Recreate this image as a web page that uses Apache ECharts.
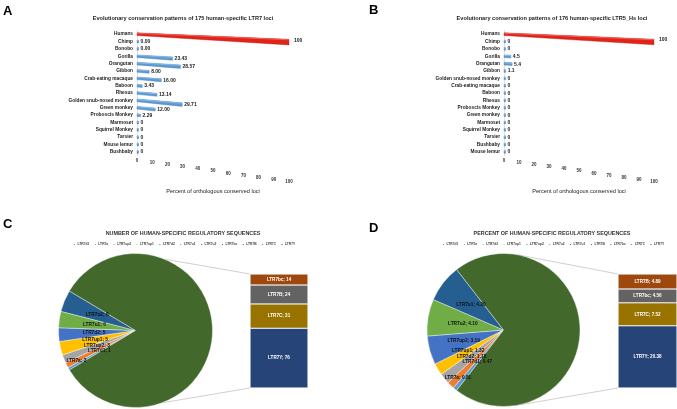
<!DOCTYPE html>
<html><head><meta charset="utf-8">
<script src="https://cdn.jsdelivr.net/npm/echarts@6/dist/echarts.min.js"></script>
<style>
html,body{margin:0;padding:0;background:#fff;overflow:hidden;}
#wrap{position:relative;width:677px;height:409px;}
.p{position:absolute;}
</style></head>
<body><div id="wrap">
<div id="pa" class="p" style="left:0;top:0;width:338px;height:200px"></div>
<div id="pb" class="p" style="left:338px;top:0;width:339px;height:200px"></div>
<div id="pc" class="p" style="left:0;top:200px;width:338px;height:209px"></div>
<div id="pd" class="p" style="left:338px;top:200px;width:339px;height:209px"></div>
</div>
<script>
// ---------- data ----------
const speciesA = ['Humans','Chimp','Bonobo','Gorilla','Orangutan','Gibbon','Crab-eating macaque','Baboon','Rhesus','Golden snub-nosed monkey','Green monkey','Proboscis Monkey','Marmoset','Squirrel Monkey','Tarsier','Mouse lemur','Bushbaby'];
const valuesA = [100,0,0,23.43,28.57,8.00,16.00,3.43,13.14,29.71,12.00,2.29,0,0,0,0,0];
const labelsA = ['100','0.00','0.00','23.43','28.57','8.00','16.00','3.43','13.14','29.71','12.00','2.29','0','0','0','0','0'];

const speciesB = ['Humans','Chimp','Bonobo','Gorilla','Orangutan','Gibbon','Golden snub-nosed monkey','Crab-eating macaque','Baboon','Rhesus','Proboscis Monkey','Green monkey','Marmoset','Squirrel Monkey','Tarsier','Bushbaby','Mouse lemur'];
const valuesB = [100,0,0,4.5,5.4,1.1,0,0,0,0,0,0,0,0,0,0,0];
const labelsB = ['100','0','0','4.5','5.4','1.1','0','0','0','0','0','0','0','0','0','0','0'];

const axisTicks = [0,10,20,30,40,50,60,70,80,90,100];

const pieNamesC = ['LTR7d1','LTR7a','LTR7up2','LTR7up1','LTR7d2','LTR7u1','LTR7u2'];
const pieValuesC = [1,2,3,5,5,6,8];
const barNamesC = ['LTR7bc','LTR7B','LTR7C','LTR7Y'];
const barValuesC = [14,24,31,76];

const pieNamesD = ['LTR7d1','LTR7a','LTR7d2','LTR7up1','LTR7up2','LTR7u2','LTR7u1'];
const pieValuesD = [0.47,0.81,1.18,1.32,3.19,4.10,4.20];
const barNamesD = ['LTR7B','LTR7bc','LTR7C','LTR7Y'];
const barValuesD = [4.89,4.56,7.52,20.38];

// ---------- style ----------
const FONT = 'Liberation Sans, Arial, sans-serif';
const PAL = ['#5B9BD5','#ED7D31','#A5A5A5','#FFC000','#4472C4','#70AD47','#255E91','#9E480E','#636363','#997300','#264478','#43682B'];

function skewRender(labels){
  return function(params, api){
    const cs = params.coordSys;
    const v = api.value(0), ci = api.value(1);
    const p0 = api.coord([0, ci]), p1 = api.coord([v, ci]);
    const band = api.size([0,1])[1];
    const frac = (p0[1]-cs.y)/cs.height;
    const slope = 0.05 + 0.08*frac;
    const x0 = p0[0], x1 = Math.max(p1[0], x0+1.6);
    const t = x => band*0.36*(1 + 1.1*(x-x0)/cs.width);
    const y0 = p0[1], y1 = p0[1] + slope*(x1-x0);
    const isH = params.dataIndex === 0;
    const col = isH ? '#E2231A' : '#5B9BD5';
    const edge = isH ? '#B81812' : '#3F78B0';
    return {type:'group', children:[
      {type:'polygon', shape:{points:[[x0,y0-t(x0)/2],[x1,y1-t(x1)/2],[x1,y1+t(x1)/2],[x0,y0+t(x0)/2]]},
       style:{fill:col, stroke:edge, lineWidth:0.4}},
      {type:'polygon', shape:{points:[[x0,y0-t(x0)/2],[x1,y1-t(x1)/2],[x1,y1-t(x1)/2+0.9],[x0,y0-t(x0)/2+0.9]]},
       style:{fill:isH?'#F0625A':'#8DBBE6'}},
      {type:'text', style:{text:labels[params.dataIndex], x:x1+(isH?5:2), y:y1-(isH?2:0), fill:'#222',
        font:'bold 5px '+FONT, verticalAlign:'middle', align:'left'}}
    ]};
  };
}

function barOption(letter, letterPos, title, titleX, cats, vals, labels, grid){
  const rich = {};
  axisTicks.forEach((v,i)=>{ rich['t'+i] = {padding:[i*2.05,0,0,0], fontSize:4.5, fontWeight:'bold', color:'#333', fontFamily:FONT}; });
  return {
    animation:false,
    title:[
      {text:letter, left:letterPos[0], top:letterPos[1], padding:0, textStyle:{fontSize:13, fontWeight:'bold', color:'#000', fontFamily:'Liberation Sans, Arial'}},
      {text:title, left:titleX, top:15, textAlign:'center', padding:0, textStyle:{fontSize:5.6, fontWeight:'bold', color:'#222', fontFamily:FONT}}
    ],
    grid:grid,
    xAxis:{type:'value', min:0, max:100, interval:10,
      name:'Percent of orthologous conserved loci', nameLocation:'middle', nameGap:29,
      nameTextStyle:{fontSize:5.6, color:'#222', fontFamily:FONT},
      axisLine:{show:false}, axisTick:{show:false}, splitLine:{show:false},
      axisLabel:{margin:3, formatter:v=>'{t'+axisTicks.indexOf(v)+'|'+v+'}', rich:rich}},
    yAxis:{type:'category', inverse:true, data:cats,
      axisLine:{show:true, lineStyle:{color:'#D0D0D0', width:0.6}}, axisTick:{show:false},
      axisLabel:{fontSize:4.8, fontWeight:'bold', color:'#222', margin:4, fontFamily:FONT}},
    series:[{type:'custom', renderItem:skewRender(labels), data:vals.map((v,i)=>[v,i]), encode:{x:0,y:1}, clip:false}]
  };
}

function pieOption(letter, letterPos, title, titleX, legendX, pieNames, pieVals, barNames, barVals, center, pieAngles, barGrid, decimals){
  const otherVal = barVals.reduce((a,b)=>a+b,0);
  const smallSum = pieVals.reduce((a,b)=>a+b,0);
  const total = otherVal + smallSum;
  const startAngle = 180 + smallSum/total*180;
  const fmt = v => decimals ? v.toFixed(decimals) : String(v);
  const R = center[2];
  // mid angle of LTR7a slice (index 1), used to push its label outward like the reference
  const midA = (startAngle - (pieVals[0] + pieVals[1]/2)/total*360) * Math.PI/180;
  const pieData = pieNames.map((n,i)=>({name:n, value:pieVals[i], itemStyle:{color:PAL[i]}}));
  pieData.push({name:'Other', value:otherVal, itemStyle:{color:PAL[11]}, label:{show:false}});
  const order = barNames.map((n,i)=>i).reverse(); // bottom first
  const barSeries = order.map(i=>({
    type:'bar', name:barNames[i], stack:'s', xAxisIndex:0, yAxisIndex:0,
    data:[barVals[i]], barWidth:'100%',
    itemStyle:{color:PAL[7+i], borderColor:'#fff', borderWidth:0.5},
    label:{show:true, position:'inside', formatter:p=>p.seriesName+'; '+fmt(p.value), color:'#fff', fontSize:4.6, fontWeight:'bold', fontFamily:FONT}
  }));
  const a1 = pieAngles[0]*Math.PI/180, a2 = pieAngles[1]*Math.PI/180;
  const bx = barGrid.left, by0 = barGrid.top, by1 = barGrid.top+barGrid.height;
  return {
    animation:false,
    title:[
      {text:letter, left:letterPos[0], top:letterPos[1], padding:0, textStyle:{fontSize:13, fontWeight:'bold', color:'#000', fontFamily:'Liberation Sans, Arial'}},
      {text:title, left:titleX, top:31, textAlign:'center', padding:0, textStyle:{fontSize:5.4, fontWeight:'bold', color:'#333', fontFamily:FONT}}
    ],
    legend:{left:legendX, top:42, width:330, padding:0, itemWidth:3, itemHeight:3, itemGap:3.5, icon:'rect',
      data:pieNames.concat(barNames), textStyle:{fontSize:3.3, fontWeight:'bold', color:'#444', fontFamily:FONT, padding:[0,0,0,-3.5]}},
    grid:barGrid,
    xAxis:{type:'category', data:['Other'], show:false},
    yAxis:{type:'value', min:0, max:otherVal, show:false},
    graphic:[
      {type:'line', shape:{x1:center[0]+R*Math.cos(a1), y1:center[1]-R*Math.sin(a1), x2:bx, y2:by0}, style:{stroke:'#B0B0B0', lineWidth:0.6}},
      {type:'line', shape:{x1:center[0]+R*Math.cos(a2), y1:center[1]-R*Math.sin(a2), x2:bx, y2:by1}, style:{stroke:'#B0B0B0', lineWidth:0.6}}
    ],
    series:[{
      type:'pie', center:[center[0],center[1]], radius:R, startAngle:startAngle, clockwise:true,
      data:pieData, itemStyle:{borderColor:'#fff', borderWidth:0.4},
      label:{show:true, position:'inside', formatter:p=>p.name+'; '+fmt(p.value), color:'#111', fontSize:4.8, fontWeight:'bold', fontFamily:FONT},
      labelLine:{show:false},
      labelLayout:function(p){
        if (p.dataIndex === 1) {
          return {x:center[0]+R*0.86*Math.cos(midA), y:center[1]-R*0.86*Math.sin(midA), align:'center', verticalAlign:'middle'};
        }
      }
    }].concat(barSeries)
  };
}

echarts.init(document.getElementById('pa')).setOption(
  barOption('A',[3,5],'Evolutionary conservation patterns of 175 human-specific LTR7 loci',183,speciesA,valuesA,labelsA,
    {left:137, top:30.5, width:152, height:125}));
echarts.init(document.getElementById('pb')).setOption(
  barOption('B',[31,4],'Evolutionary conservation patterns of 176 human-specific LTR5_Hs loci',214,speciesB,valuesB,labelsB,
    {left:166, top:30.5, width:150, height:125}));
echarts.init(document.getElementById('pc')).setOption(
  pieOption('C',[3,18],'NUMBER OF HUMAN-SPECIFIC REGULATORY SEQUENCES',183,72,pieNamesC,pieValuesC,barNamesC,barValuesC,
    [135.5,130.5,77],[68,-70],{left:250, top:74, width:58, height:114},0));
echarts.init(document.getElementById('pd')).setOption(
  pieOption('D',[31,22],'PERCENT OF HUMAN-SPECIFIC REGULATORY SEQUENCES',214,103,pieNamesD,pieValuesD,barNamesD,barValuesD,
    [165.5,130,76.5],[80,-82],{left:280, top:74, width:59, height:114},2));
</script>
</body></html>
